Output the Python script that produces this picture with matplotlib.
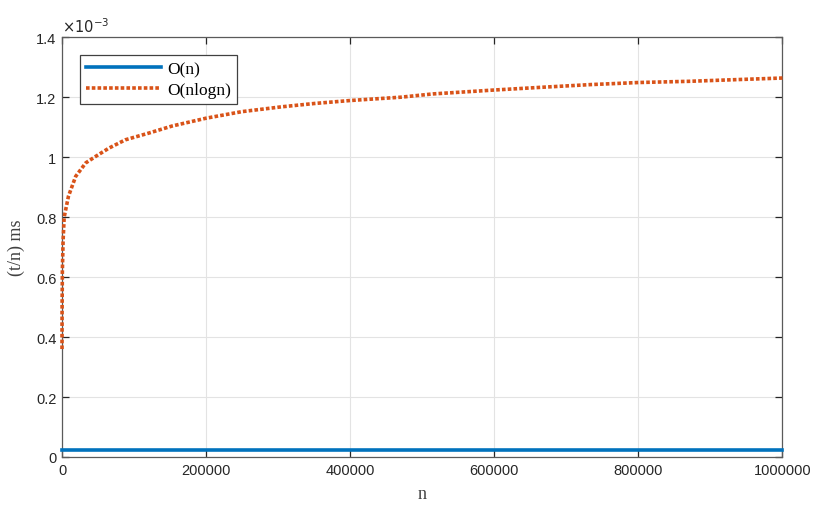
import matplotlib
matplotlib.use("Agg")
import matplotlib.pyplot as plt
from matplotlib.ticker import FuncFormatter

# values, y in units of 1e-3 ms
n_on = [20, 100000, 200000, 400000, 600000, 800000, 1000000]
t_on = [0.022, 0.022, 0.022, 0.022, 0.022, 0.022, 0.022]

n_onlogn = [20, 100, 500, 1500, 3000, 9000, 19000, 33000, 47000, 65000, 88000,
            120000, 153000, 200000, 250000, 305000, 350000, 400000, 470000,
            515000, 600000, 665000, 733000, 800000, 870000, 940000, 1000000]
t_onlogn = [0.36, 0.48, 0.62, 0.72, 0.80, 0.87, 0.936, 0.981, 1.003, 1.030, 1.058,
            1.080, 1.104, 1.130, 1.152, 1.168, 1.179, 1.189, 1.200,
            1.211, 1.224, 1.233, 1.242, 1.249, 1.253, 1.259, 1.264]

labels = ['O(n)', 'O(nlogn)']
x_ticks = [0, 200000, 400000, 600000, 800000, 1000000]
y_ticks = [0, 0.2, 0.4, 0.6, 0.8, 1.0, 1.2, 1.4]

plt.rcParams['font.family'] = ['Liberation Sans', 'DejaVu Sans']
axc = '#262626'

fig = plt.figure(figsize=(8.3, 5.1), dpi=100)
ax = fig.add_axes([0.0747, 0.102, 0.868, 0.823])

ax.plot(n_on, t_on, color='#0072BD', lw=2.6, label=labels[0],
        zorder=3, clip_on=False)
ax.plot(n_onlogn, t_onlogn, color='#D95319', lw=2.6, ls=(0, (1, 0.6)),
        label=labels[1], zorder=3, clip_on=False)

ax.set_xlim(0, 1000000)
ax.set_ylim(0, 1.4)
ax.set_xticks(x_ticks)
ax.set_yticks(y_ticks)
ax.xaxis.set_major_formatter(FuncFormatter(lambda v, p: '%d' % v))
ax.yaxis.set_major_formatter(FuncFormatter(lambda v, p: '%g' % round(v, 2)))

ax.grid(True, color='#e3e3e3', lw=0.8)
ax.set_axisbelow(True)
for s in ax.spines.values():
    s.set_color('#5a5a5a')
    s.set_linewidth(0.9)
ax.tick_params(direction='in', length=5, width=0.9, color=axc, labelcolor=axc,
               labelsize=10.5, top=True, right=True, pad=4)

serif = ['Liberation Serif', 'DejaVu Serif']
ax.set_xlabel('n', family=serif, fontsize=13, color='#404040', labelpad=6)
ax.set_ylabel('(t/n) ms', family=serif, fontsize=13, color='#404040', labelpad=8)
ax.text(0, 1.005, r'$\times10^{-3}$', transform=ax.transAxes, fontsize=10.5,
        color=axc, va='bottom', ha='left')

leg = ax.legend(loc='upper left', bbox_to_anchor=(0.025, 0.957),
                prop={'family': serif, 'size': 12.5}, frameon=True, fancybox=False,
                handlelength=4.3, borderpad=0.35, labelspacing=0.25,
                handletextpad=0.35, borderaxespad=0)
leg.get_frame().set_edgecolor('#404040')
leg.get_frame().set_linewidth(0.9)
leg.get_frame().set_alpha(1)
leg.set_zorder(5)

fig.savefig('out.png', dpi=100)
